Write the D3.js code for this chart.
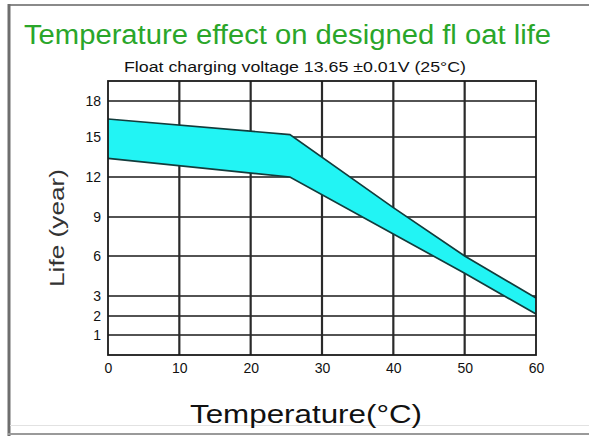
<!DOCTYPE html>
<html>
<head>
<meta charset="utf-8">
<script src="https://cdn.jsdelivr.net/npm/d3@7/dist/d3.min.js"></script>
<style>
  html, body { margin: 0; padding: 0; background: #fff; }
  svg { display: block; font-family: "Liberation Sans", Arial, sans-serif; }
</style>
</head>
<body>
<svg id="chart" width="589" height="436"></svg>
<script>
// ---- data ----
const titleText = "Temperature effect on designed fl oat life";
const subtitleText = "Float charging voltage  13.65 \u00b10.01V (25\u00b0C)";
const xLabel = "Temperature(\u00b0C)";
const yLabel = "Life (year)";
const xTicks = [0, 10, 20, 30, 40, 50, 60];
const yTicks = [1, 2, 3, 6, 9, 12, 15, 18];
const yBreaks = [0, 1, 2, 3, 6, 9, 12, 15, 18, 20];
const temps = [0, 25.5, 40, 50, 60];
const lifeUpper = [16.5, 15.2, 9.7, 6.0, 2.9];
const lifeLower = [13.4, 12.0, 7.7, 4.7, 2.1];

// ---- layout ----
const svg = d3.select("#chart");
const plot = { left: 108, right: 536, top: 81, bottom: 355 };

const x = d3.scaleLinear().domain([0, 60]).range([plot.left, plot.right]);
// non-uniform value axis (piecewise linear as in the original)
const y = d3.scaleLinear().domain(yBreaks)
  .range([355, 335, 316, 296, 256, 217, 177, 137, 101, 81]);

// outer frame
svg.append("line").attr("x1", 8).attr("x2", 589).attr("y1", 5).attr("y2", 5)
  .attr("stroke", "#8a8a8a").attr("stroke-width", 2);
svg.append("line").attr("x1", 9).attr("x2", 9).attr("y1", 4).attr("y2", 436)
  .attr("stroke", "#6e6e6e").attr("stroke-width", 3);
svg.append("line").attr("x1", 10).attr("x2", 589).attr("y1", 425.5).attr("y2", 425.5)
  .attr("stroke", "#e2e2e2").attr("stroke-width", 1);
svg.append("line").attr("x1", 8).attr("x2", 589).attr("y1", 434).attr("y2", 434)
  .attr("stroke", "#9a9a9a").attr("stroke-width", 2);

// title
svg.append("text").attr("x", 24).attr("y", 44)
  .attr("fill", "#2aa62a").attr("font-size", 27)
  .attr("textLength", 527).attr("lengthAdjust", "spacingAndGlyphs")
  .text(titleText);

svg.append("text").attr("x", 124).attr("y", 72)
  .attr("fill", "#111").attr("font-size", 14)
  .attr("textLength", 342).attr("lengthAdjust", "spacingAndGlyphs")
  .text(subtitleText);

// grid
const g = svg.append("g");
g.selectAll("line.h").data(yTicks).join("line")
  .attr("x1", plot.left).attr("x2", plot.right)
  .attr("y1", d => y(d)).attr("y2", d => y(d))
  .attr("stroke", "#1a1a1a").attr("stroke-width", 1.7);
g.selectAll("line.v").data(xTicks.slice(1, -1)).join("line")
  .attr("x1", d => x(d)).attr("x2", d => x(d))
  .attr("y1", plot.top).attr("y2", plot.bottom)
  .attr("stroke", "#2a2a2a").attr("stroke-width", 2.2);

// band (drawn over the grid)
const rows = temps.map((t, i) => ({ t, lo: lifeLower[i], hi: lifeUpper[i] }));
const area = d3.area().x(d => x(d.t)).y0(d => y(d.lo)).y1(d => y(d.hi));
svg.append("path").datum(rows).attr("d", area).attr("fill", "#22f4f4");

// band outlines
const lineHi = d3.line().x(d => x(d.t)).y(d => y(d.hi));
const lineLo = d3.line().x(d => x(d.t)).y(d => y(d.lo));
svg.append("path").datum(rows).attr("d", lineHi).attr("fill", "none")
  .attr("stroke", "#123c3c").attr("stroke-width", 1.7);
svg.append("path").datum(rows).attr("d", lineLo).attr("fill", "none")
  .attr("stroke", "#123c3c").attr("stroke-width", 1.7);

// plot border
svg.append("rect").attr("x", plot.left).attr("y", plot.top)
  .attr("width", plot.right - plot.left).attr("height", plot.bottom - plot.top)
  .attr("fill", "none").attr("stroke", "#1a1a1a").attr("stroke-width", 1.8);

// axes (labels only, via d3 axes)
const xAxis = d3.axisBottom(x).tickValues(xTicks).tickSize(0).tickPadding(8);
svg.append("g").attr("transform", `translate(0,${plot.bottom})`).call(xAxis)
  .call(s => s.select(".domain").remove())
  .call(s => s.selectAll("text").attr("font-size", 14).attr("fill", "#111")
    .attr("font-family", "Liberation Sans, Arial, sans-serif"));

const yAxis = d3.axisLeft(y).tickValues(yTicks).tickSize(0).tickPadding(7);
svg.append("g").attr("transform", `translate(${plot.left},0)`).call(yAxis)
  .call(s => s.select(".domain").remove())
  .call(s => s.selectAll("text").attr("font-size", 14).attr("fill", "#111")
    .attr("font-family", "Liberation Sans, Arial, sans-serif"));

// axis titles
svg.append("text").attr("x", 306).attr("y", 423).attr("text-anchor", "middle")
  .attr("font-size", 25).attr("fill", "#111")
  .attr("textLength", 232).attr("lengthAdjust", "spacingAndGlyphs")
  .text(xLabel);

svg.append("text").attr("transform", "translate(64,228) rotate(-90)")
  .attr("text-anchor", "middle").attr("font-size", 20).attr("fill", "#333")
  .attr("textLength", 118).attr("lengthAdjust", "spacingAndGlyphs")
  .text(yLabel);
</script>
</body>
</html>
